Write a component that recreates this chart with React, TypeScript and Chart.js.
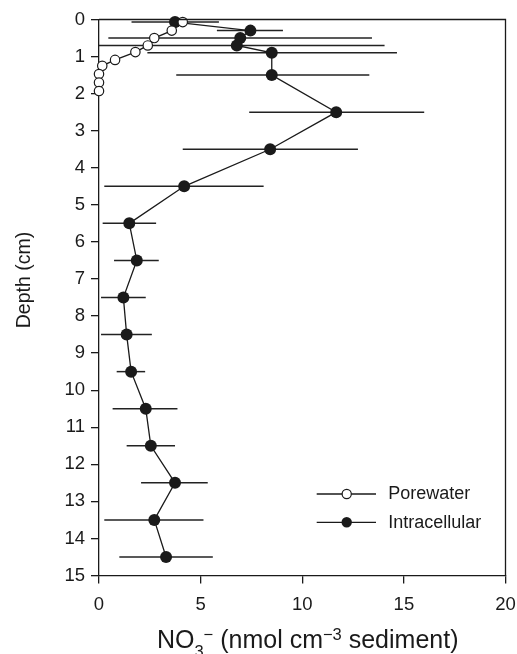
import React, { useEffect, useRef } from 'react';
import { Chart, registerables } from 'chart.js';

Chart.register(...registerables);

// Porewater NO3- profile
const poreDepth = [0.07, 0.3, 0.5, 0.7, 0.88, 1.09, 1.25, 1.47, 1.7, 1.93];
const poreValue = [4.12, 3.58, 2.72, 2.4, 1.79, 0.79, 0.16, 0.0, 0.0, 0.0];

// Intracellular NO3- profile with error bar ends
const intraDepth = [0.07, 0.3, 0.5, 0.7, 0.9, 1.5, 2.5, 3.5, 4.5, 5.5, 6.5, 7.5, 8.5, 9.5, 10.5, 11.5, 12.5, 13.5, 14.5];
const intraValue = [3.74, 7.45, 6.95, 6.78, 8.5, 8.5, 11.67, 8.42, 4.19, 1.49, 1.86, 1.2, 1.36, 1.58, 2.3, 2.55, 3.74, 2.72, 3.3];
const intraLow = [1.6, 5.8, 0.46, 0.0, 2.38, 3.8, 7.39, 4.12, 0.26, 0.18, 0.74, 0.1, 0.1, 0.87, 0.67, 1.36, 2.07, 0.26, 1.0];
const intraHigh = [5.9, 9.05, 13.43, 14.05, 14.66, 13.3, 16.0, 12.74, 8.1, 2.81, 2.94, 2.3, 2.6, 2.27, 3.86, 3.74, 5.35, 5.14, 5.6];

const xTicks = [0, 5, 10, 15, 20];
const yTicks = [0, 1, 2, 3, 4, 5, 6, 7, 8, 9, 10, 11, 12, 13, 14, 15];

const seriesLabels = ['Porewater', 'Intracellular'];
const yTitle = 'Depth (cm)';

const FONT = '"Liberation Sans", Arial, Helvetica, sans-serif';
const INK = '#1a1a1a';

const customPlugin = {
  id: 'custom',
  beforeDatasetsDraw(chart: any) {
    const { ctx, scales } = chart;
    const xs = scales.x;
    const ys = scales.y;
    ctx.save();
    ctx.strokeStyle = '#222';
    ctx.lineWidth = 1.5;
    for (let i = 0; i < intraDepth.length; i++) {
      const y = ys.getPixelForValue(intraDepth[i]);
      const x1 = xs.getPixelForValue(intraLow[i]);
      const x2 = xs.getPixelForValue(intraHigh[i]);
      ctx.beginPath();
      ctx.moveTo(x1, y);
      ctx.lineTo(x2, y);
      ctx.stroke();
    }
    ctx.restore();
  },
  afterDraw(chart: any) {
    const { ctx, chartArea } = chart;
    ctx.save();
    // top and right frame
    ctx.strokeStyle = INK;
    ctx.lineWidth = 1.3;
    ctx.beginPath();
    ctx.moveTo(chartArea.left, chartArea.top);
    ctx.lineTo(chartArea.right, chartArea.top);
    ctx.lineTo(chartArea.right, chartArea.bottom);
    ctx.stroke();

    // legend
    const legendY = [494, 522.3];
    for (let i = 0; i < 2; i++) {
      const y = legendY[i];
      ctx.strokeStyle = INK;
      ctx.lineWidth = 1.3;
      ctx.beginPath();
      ctx.moveTo(316.7, y);
      ctx.lineTo(376, y);
      ctx.stroke();
      ctx.beginPath();
      if (i === 0) {
        ctx.arc(346.7, y, 4.6, 0, Math.PI * 2);
        ctx.fillStyle = '#fff';
        ctx.fill();
        ctx.lineWidth = 1.2;
        ctx.stroke();
      } else {
        ctx.arc(346.7, y, 5.2, 0, Math.PI * 2);
        ctx.fillStyle = INK;
        ctx.fill();
      }
      ctx.fillStyle = INK;
      ctx.font = `18px ${FONT}`;
      ctx.textAlign = 'left';
      ctx.textBaseline = 'middle';
      ctx.fillText(seriesLabels[i], 388.3, y + 0.5);
    }

    // y title
    ctx.save();
    ctx.translate(25, 280);
    ctx.rotate(-Math.PI / 2);
    ctx.font = `19.5px ${FONT}`;
    ctx.textAlign = 'center';
    ctx.textBaseline = 'middle';
    ctx.fillStyle = INK;
    ctx.fillText(yTitle, 0, 0);
    ctx.restore();

    // x title with sub/superscripts
    const parts: [string, number, number][] = [
      ['NO', 25, 0],
      ['3', 16.5, 9],
      ['\u2212', 16.5, -8],
      [' (nmol cm', 25, 0],
      ['\u22123', 16.5, -8.5],
      [' sediment)', 25, 0],
    ];
    let total = 0;
    for (const [t, s] of parts) {
      ctx.font = `${s}px ${FONT}`;
      total += ctx.measureText(t).width;
    }
    let x = 307.7 - total / 2;
    const base = 648.3;
    ctx.textAlign = 'left';
    ctx.textBaseline = 'alphabetic';
    for (const [t, s, dy] of parts) {
      ctx.font = `${s}px ${FONT}`;
      ctx.fillText(t, x, base + dy);
      x += ctx.measureText(t).width;
    }
    ctx.restore();
  },
};

export default function App() {
  const ref = useRef<HTMLCanvasElement>(null);
  useEffect(() => {
    if (!ref.current) return;
    const chart = new Chart(ref.current, {
      type: 'scatter',
      data: {
        datasets: [
          {
            label: seriesLabels[0],
            data: poreDepth.map((d, i) => ({ x: poreValue[i], y: d })),
            showLine: true,
            borderColor: INK,
            borderWidth: 1.3,
            pointRadius: 4.7,
            pointBackgroundColor: '#fff',
            pointBorderColor: INK,
            pointBorderWidth: 1.2,
            clip: false,
            order: 0,
          } as any,
          {
            label: seriesLabels[1],
            data: intraDepth.map((d, i) => ({ x: intraValue[i], y: d })),
            showLine: true,
            borderColor: INK,
            borderWidth: 1.3,
            pointRadius: 6,
            pointBackgroundColor: INK,
            pointBorderColor: INK,
            pointBorderWidth: 0,
            clip: false,
            order: 1,
          } as any,
        ],
      },
      options: {
        responsive: false,
        animation: false,
        layout: { padding: { left: 0, top: 19.5, right: 11.5, bottom: 0 } },
        plugins: {
          legend: { display: false },
          tooltip: { enabled: false },
        },
        scales: {
          x: {
            type: 'linear',
            min: 0,
            max: 20,
            afterBuildTicks: (s: any) => {
              s.ticks = xTicks.map((v) => ({ value: v }));
            },
            ticks: { padding: 10, color: INK, font: { family: FONT, size: 18.5 } },
            grid: { drawOnChartArea: false, drawTicks: true, tickLength: 8, color: INK, lineWidth: 1.3 },
            border: { display: true, color: INK, width: 1.3 },
            afterFit: (s: any) => {
              s.height = 78.5;
              s.paddingLeft = 0;
              s.paddingRight = 0;
            },
          },
          y: {
            type: 'linear',
            reverse: true,
            min: 0,
            max: 15,
            afterBuildTicks: (s: any) => {
              s.ticks = yTicks.map((v) => ({ value: v }));
            },
            ticks: { padding: 6, color: INK, font: { family: FONT, size: 18.5 } },
            grid: { drawOnChartArea: false, drawTicks: true, tickLength: 8, color: INK, lineWidth: 1.3 },
            border: { display: true, color: INK, width: 1.3 },
            afterFit: (s: any) => {
              s.width = 99;
              s.paddingTop = 0;
              s.paddingBottom = 0;
            },
          },
        },
      } as any,
      plugins: [customPlugin],
    });
    return () => chart.destroy();
  }, []);
  return (
    <canvas
      ref={ref}
      width={517}
      height={654}
      style={{ position: 'absolute', left: 0, top: 0, width: 517, height: 654 }}
    />
  );
}
